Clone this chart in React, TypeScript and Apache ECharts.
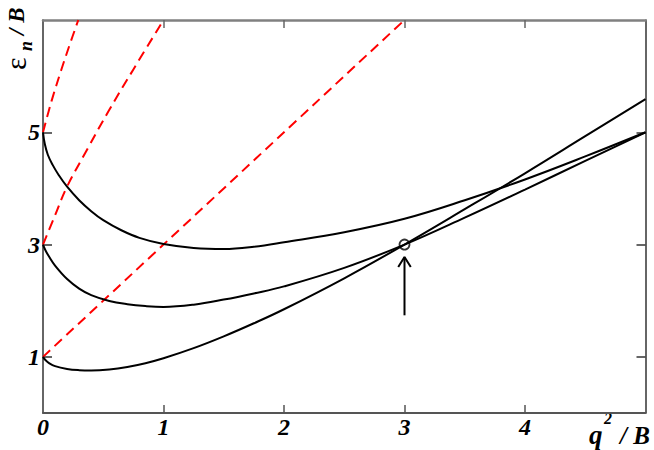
import React, { useEffect, useRef } from "react";
import * as echarts from "echarts";

// ---- data ----
const xTickValues = [1, 2, 3, 4];
const xLabelValues = [0, 1, 2, 3, 4];
const yTickValues = [1, 3, 5];

const lowX = [0, 0.02, 0.05, 0.1, 0.2, 0.3, 0.4, 0.55, 0.7, 0.85, 1.0, 1.25, 1.5, 1.75, 2.0, 2.5, 3.0, 3.5, 4.0, 4.5, 5.0];
const lowY = [1.0, 0.944, 0.89, 0.835, 0.785, 0.763, 0.757, 0.775, 0.82, 0.887, 0.975, 1.155, 1.365, 1.598, 1.848, 2.4, 3.0, 3.63, 4.27, 4.93, 5.59];

const midX = [0, 0.02, 0.05, 0.1, 0.2, 0.3, 0.4, 0.55, 0.7, 0.85, 1.0, 1.25, 1.5, 1.75, 2.0, 2.5, 3.0, 3.5, 4.0, 4.5, 5.0];
const midY = [3.0, 2.9, 2.786, 2.626, 2.386, 2.216, 2.1, 1.995, 1.938, 1.905, 1.89, 1.93, 2.02, 2.13, 2.255, 2.585, 3.0, 3.48, 3.98, 4.49, 5.0];

const topX = [0, 0.015, 0.04, 0.08, 0.13, 0.2, 0.3, 0.4, 0.5, 0.65, 0.8, 1.0, 1.25, 1.5, 1.75, 2.0, 2.5, 3.0, 3.5, 4.0, 4.5, 5.0];
const topY = [5.0, 4.79, 4.6, 4.42, 4.24, 4.03, 3.79, 3.595, 3.435, 3.255, 3.12, 3.01, 2.94, 2.92, 2.96, 3.04, 3.22, 3.46, 3.79, 4.16, 4.57, 5.0];

const red0X = [0, 3];
const red0Y = [1, 7];
const red1X = [0, 0.1, 0.197, 0.363, 0.542, 0.75, 1.0];
const red1Y = [3, 3.52, 4.02, 4.68, 5.37, 6.12, 7.0];
const red2X = [0, 0.07, 0.15, 0.22, 0.293];
const red2Y = [5, 5.55, 6.1, 6.55, 7.0];

const markerPoint = [3, 3];
const arrowShaftX = [3, 3];
const arrowShaftY = [1.74, 2.78];
const arrowHeadX = [2.948, 3, 3.052];
const arrowHeadY = [2.6, 2.78, 2.6];

const zip = (xs: number[], ys: number[]) => xs.map((x, i) => [x, ys[i]]);

const SERIF = "Liberation Serif";

export default function App() {
  const ref = useRef<HTMLDivElement>(null);

  useEffect(() => {
    if (!ref.current) return;
    const chart = echarts.init(ref.current, null, { renderer: "svg" });

    const blackLine = (name: string, data: number[][]) => ({
      name,
      type: "line",
      data,
      smooth: 0.4,
      showSymbol: false,
      symbol: "none",
      lineStyle: { color: "#000", width: 2 },
      xAxisIndex: 0,
      yAxisIndex: 0,
      z: 3,
    });
    const redLine = (name: string, data: number[][]) => ({
      name,
      type: "line",
      data,
      smooth: 0.4,
      showSymbol: false,
      symbol: "none",
      lineStyle: { color: "#ff0000", width: 2, type: [10, 6] },
      xAxisIndex: 0,
      yAxisIndex: 0,
      z: 2,
    });

    const labelFont = {
      fontFamily: SERIF,
      fontStyle: "italic",
      fontWeight: "bold",
      fontSize: 24,
      color: "#000",
    };
    const txt = (text: string, size: number, italic: boolean, bold: boolean) => ({
      text,
      fontFamily: SERIF,
      fontSize: size,
      fontStyle: italic ? "italic" : "normal",
      fontWeight: bold ? "bold" : "normal",
      fill: "#000",
      align: "left",
      verticalAlign: "middle",
    });

    chart.setOption({
      animation: false,
      backgroundColor: "#fff",
      grid: { left: 43, top: 20, right: 8.5, bottom: 37, containLabel: false },
      xAxis: [
        {
          type: "value",
          position: "bottom",
          min: 0,
          max: 5,
          interval: 1,
          axisLine: { show: true, onZero: false, lineStyle: { color: "#555", width: 2 } },
          axisTick: { show: true, inside: true, length: 8, customValues: xTickValues, lineStyle: { color: "#555", width: 1.5 } },
          axisLabel: { ...labelFont, margin: 2, customValues: xLabelValues },
          splitLine: { show: false },
        },
        {
          type: "value",
          position: "top",
          min: 0,
          max: 5,
          interval: 1,
          axisLine: { show: true, onZero: false, lineStyle: { color: "#808080", width: 2.5 } },
          axisTick: { show: true, inside: true, length: 8, customValues: xTickValues, lineStyle: { color: "#666", width: 1.5 } },
          axisLabel: { show: false },
          splitLine: { show: false },
        },
      ],
      yAxis: [
        {
          type: "value",
          position: "left",
          min: 0,
          max: 7,
          interval: 1,
          axisLine: { show: true, onZero: false, lineStyle: { color: "#333", width: 1.5 } },
          axisTick: { show: true, inside: true, length: 9, customValues: yTickValues, lineStyle: { color: "#333", width: 1.5 } },
          axisLabel: { ...labelFont, margin: 3, customValues: yTickValues },
          splitLine: { show: false },
        },
        {
          type: "value",
          position: "right",
          min: 0,
          max: 7,
          interval: 1,
          axisLine: { show: true, onZero: false, lineStyle: { color: "#333", width: 1.5 } },
          axisTick: { show: true, inside: true, length: 9, customValues: yTickValues, lineStyle: { color: "#333", width: 1.5 } },
          axisLabel: { show: false },
          splitLine: { show: false },
        },
      ],
      series: [
        redLine("red0", zip(red0X, red0Y)),
        redLine("red1", zip(red1X, red1Y)),
        redLine("red2", zip(red2X, red2Y)),
        blackLine("n0", zip(lowX, lowY)),
        blackLine("n1", zip(midX, midY)),
        blackLine("n2", zip(topX, topY)),
        {
          name: "arrowShaft",
          type: "line",
          data: zip(arrowShaftX, arrowShaftY),
          showSymbol: false,
          symbol: "none",
          lineStyle: { color: "#000", width: 2 },
          z: 4,
        },
        {
          name: "arrowHead",
          type: "line",
          data: zip(arrowHeadX, arrowHeadY),
          showSymbol: false,
          symbol: "none",
          lineStyle: { color: "#000", width: 2 },
          z: 4,
        },
        {
          name: "marker",
          type: "scatter",
          data: [markerPoint],
          symbol: "circle",
          symbolSize: 10,
          itemStyle: { color: "rgba(255,255,255,0)", borderColor: "#000", borderWidth: 1.8 },
          z: 5,
        },
      ],
      graphic: [
        {
          type: "group",
          x: 18,
          y: 34,
          rotation: Math.PI / 2,
          children: [
            { type: "text", x: -36, y: -3, style: txt("ε", 30, false, false) },
            { type: "text", x: -17, y: 8, style: txt("n", 18, true, true) },
            { type: "text", x: -1, y: -2, style: txt("/ B", 23, true, true) },
          ],
        },
        { type: "text", x: 589, y: 435, style: txt("q", 27, true, true) },
        { type: "text", x: 604, y: 418, style: txt("2", 16, true, true) },
        { type: "text", x: 620, y: 435, style: txt("/ B", 25, true, true) },
      ],
    });

    return () => chart.dispose();
  }, []);

  return (
    <div
      ref={ref}
      style={{ position: "fixed", left: 0, top: 0, width: 654, height: 450, background: "#fff" }}
    />
  );
}
